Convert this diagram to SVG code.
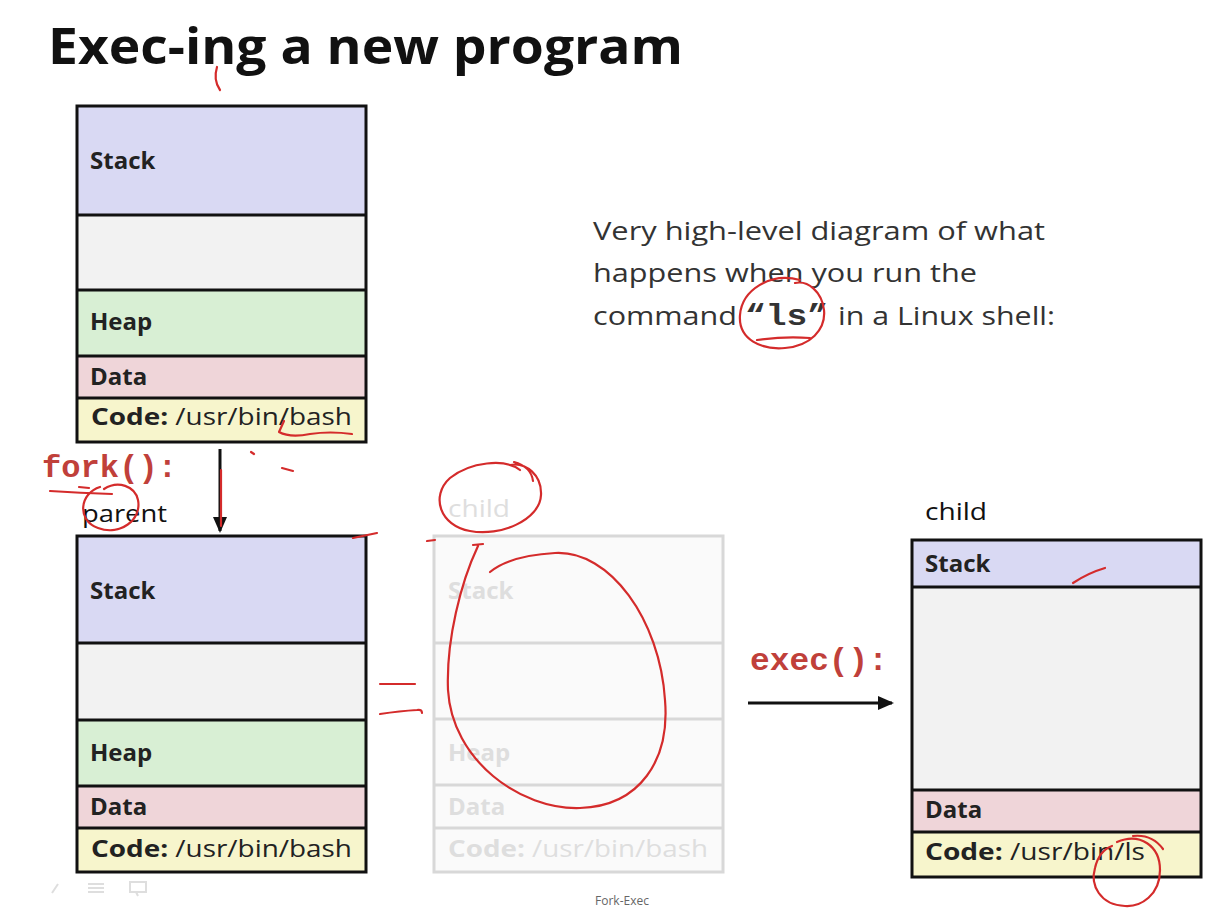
<svg xmlns="http://www.w3.org/2000/svg" width="1230" height="912" viewBox="0 0 1230 912">
  <style>
    .sans { font-family: "Open Sans", "Liberation Sans", sans-serif; }
    .mono { font-family: "Liberation Mono", "DejaVu Sans Mono", monospace; font-weight: bold; }
    .seg-label { font-family: "Open Sans", "Liberation Sans", sans-serif; font-weight: bold; font-size: 24px; fill: #222; }
    .code-path { font-weight: normal; }
    .frame { fill: none; stroke: #111; stroke-width: 3; }
    .divider { stroke: #111; stroke-width: 3; }
    .ghost-frame { fill: none; stroke: #d8d8d8; stroke-width: 3; }
    .ghost-divider { stroke: #d8d8d8; stroke-width: 3; }
    .ghost-label { fill: #dedede; }
    .stack { fill: #d9d9f3; }
    .gap { fill: #f2f2f2; }
    .heap { fill: #d8efd4; }
    .data { fill: #efd5d9; }
    .code { fill: #f7f5cc; }
    .ghost-fill { fill: #fafafa; }
    .ink { fill: none; stroke: #d42b2b; stroke-width: 2.2; stroke-linecap: round; stroke-linejoin: round; }
    .call { fill: #c0403a; font-size: 31px; }
    .arrow { stroke: #111; stroke-width: 3; fill: none; }
  </style>
  <defs>
    <marker id="head" markerUnits="userSpaceOnUse" markerWidth="16" markerHeight="14" refX="14" refY="7" orient="auto">
      <path d="M0,0 L16,7 L0,14 Z" fill="#111"/>
    </marker>
  </defs>

  <rect width="1230" height="912" fill="#ffffff"/>

  <!-- title -->
  <text class="sans" x="48" y="64" font-size="50" font-weight="bold" fill="#111" textLength="635" lengthAdjust="spacingAndGlyphs">Exec-ing a new program</text>

  <!-- explanation -->
  <g id="caption" class="sans" font-size="26" fill="#333">
    <text x="593" y="240" textLength="452" lengthAdjust="spacingAndGlyphs">Very high-level diagram of what</text>
    <text x="593" y="282" textLength="384" lengthAdjust="spacingAndGlyphs">happens when you run the</text>
    <text x="593" y="325" textLength="144" lengthAdjust="spacingAndGlyphs">command</text>
    <text class="mono" x="745" y="325" font-size="30" fill="#333" textLength="83" lengthAdjust="spacingAndGlyphs">“ls”</text>
    <text x="838" y="325" textLength="217" lengthAdjust="spacingAndGlyphs">in a Linux shell:</text>
  </g>

  <!-- bash before fork -->
  <g id="bash-before">
    <rect class="stack" x="77" y="106" width="289" height="109"/>
    <rect class="gap" x="77" y="215" width="289" height="75"/>
    <rect class="heap" x="77" y="290" width="289" height="66"/>
    <rect class="data" x="77" y="356" width="289" height="42"/>
    <rect class="code" x="77" y="398" width="289" height="44"/>
    <line class="divider" x1="77" y1="215" x2="366" y2="215"/>
    <line class="divider" x1="77" y1="290" x2="366" y2="290"/>
    <line class="divider" x1="77" y1="356" x2="366" y2="356"/>
    <line class="divider" x1="77" y1="398" x2="366" y2="398"/>
    <rect class="frame" x="77" y="106" width="289" height="336"/>
    <text class="seg-label" x="90" y="169">Stack</text>
    <text class="seg-label" x="90" y="330">Heap</text>
    <text class="seg-label" x="90" y="385">Data</text>
    <text class="seg-label" x="91" y="425" textLength="261" lengthAdjust="spacingAndGlyphs">Code:<tspan class="code-path"> /usr/bin/bash</tspan></text>
  </g>

  <!-- parent after fork -->
  <g id="parent">
    <text class="sans" x="82" y="522" font-size="24" fill="#111" textLength="85" lengthAdjust="spacingAndGlyphs">parent</text>
    <rect class="stack" x="77" y="536" width="289" height="107"/>
    <rect class="gap" x="77" y="643" width="289" height="77"/>
    <rect class="heap" x="77" y="720" width="289" height="66"/>
    <rect class="data" x="77" y="786" width="289" height="42"/>
    <rect class="code" x="77" y="828" width="289" height="44"/>
    <line class="divider" x1="77" y1="643" x2="366" y2="643"/>
    <line class="divider" x1="77" y1="720" x2="366" y2="720"/>
    <line class="divider" x1="77" y1="786" x2="366" y2="786"/>
    <line class="divider" x1="77" y1="828" x2="366" y2="828"/>
    <rect class="frame" x="77" y="536" width="289" height="336"/>
    <text class="seg-label" x="90" y="599">Stack</text>
    <text class="seg-label" x="90" y="761">Heap</text>
    <text class="seg-label" x="90" y="815">Data</text>
    <text class="seg-label" x="91" y="857" textLength="261" lengthAdjust="spacingAndGlyphs">Code:<tspan class="code-path"> /usr/bin/bash</tspan></text>
  </g>

  <!-- forked child, faded -->
  <g id="child-forked">
    <text class="sans ghost-label" x="448" y="517" font-size="24" textLength="62" lengthAdjust="spacingAndGlyphs">child</text>
    <rect class="ghost-fill" x="434" y="536" width="289" height="336"/>
    <line class="ghost-divider" x1="434" y1="643" x2="723" y2="643"/>
    <line class="ghost-divider" x1="434" y1="719" x2="723" y2="719"/>
    <line class="ghost-divider" x1="434" y1="785" x2="723" y2="785"/>
    <line class="ghost-divider" x1="434" y1="828" x2="723" y2="828"/>
    <rect class="ghost-frame" x="434" y="536" width="289" height="336"/>
    <text class="seg-label ghost-label" x="448" y="599">Stack</text>
    <text class="seg-label ghost-label" x="448" y="761">Heap</text>
    <text class="seg-label ghost-label" x="448" y="815">Data</text>
    <text class="seg-label ghost-label" x="448" y="857" textLength="260" lengthAdjust="spacingAndGlyphs">Code:<tspan class="code-path"> /usr/bin/bash</tspan></text>
  </g>

  <!-- child after exec -->
  <g id="child-exec">
    <text class="sans" x="925" y="520" font-size="24" fill="#111" textLength="62" lengthAdjust="spacingAndGlyphs">child</text>
    <rect class="stack" x="912" y="540" width="289" height="47"/>
    <rect class="gap" x="912" y="587" width="289" height="203"/>
    <rect class="data" x="912" y="790" width="289" height="42"/>
    <rect class="code" x="912" y="832" width="289" height="45"/>
    <line class="divider" x1="912" y1="587" x2="1201" y2="587"/>
    <line class="divider" x1="912" y1="790" x2="1201" y2="790"/>
    <line class="divider" x1="912" y1="832" x2="1201" y2="832"/>
    <rect class="frame" x="912" y="540" width="289" height="337"/>
    <text class="seg-label" x="925" y="572">Stack</text>
    <text class="seg-label" x="925" y="818">Data</text>
    <text class="seg-label" x="925" y="860" textLength="220" lengthAdjust="spacingAndGlyphs">Code:<tspan class="code-path"> /usr/bin/ls</tspan></text>
  </g>

  <!-- system calls and arrows -->
  <g id="connectors">
    <text class="mono call" x="42" y="477" textLength="135" lengthAdjust="spacingAndGlyphs">fork():</text>
    <line class="arrow" x1="220" y1="449" x2="220" y2="531" stroke-width="2.5" marker-end="url(#head)"/>
    <text class="mono call" x="750" y="670" fill="#c83a34" textLength="138" lengthAdjust="spacingAndGlyphs">exec():</text>
    <line class="arrow" x1="748" y1="703" x2="892" y2="703" marker-end="url(#head)"/>
  </g>

  <!-- pen annotations -->
  <g id="annotations">
    <path class="ink" d="M217 67 Q213 80 220 90"/>
    <path class="ink" d="M284 421 L279 432 Q290 438 310 434 Q330 431 352 434"/>
    <path class="ink" d="M221 470 L221 526" stroke-width="1.5"/>
    <path class="ink" d="M251 452 L254 454"/>
    <path class="ink" d="M282 468 L293 471"/>
    <path class="ink" d="M50 491 Q80 493 112 494"/>
    <path class="ink" d="M79 487 L89 488 M100 487 C80 493 76 520 98 528 C120 536 142 520 138 500 C135 486 118 480 104 489"/>
    <path class="ink" d="M520 470 C505 458 470 462 450 478 C430 496 440 526 470 531 C500 537 540 520 541 495 C542 475 526 462 510 465 M514 462 C525 465 532 472 533 481"/>
    <path class="ink" d="M353 538 L377 533"/>
    <path class="ink" d="M427 541 L435 540"/>
    <path class="ink" d="M473 545 L483 544 M478 546 C461 582 446 640 448 690 C452 760 520 810 580 808 C640 806 670 760 665 700 C660 620 610 550 555 553 C522 555 502 562 490 572"/>
    <path class="ink" d="M380 684 L415 684"/>
    <path class="ink" d="M380 714 Q400 711 417 710 Q422 709 422 713"/>
    <path class="ink" d="M1073 583 Q1088 573 1105 568"/>
    <path class="ink" d="M1117 842 C1140 832 1160 846 1160 870 C1160 895 1141 907 1125 906 C1100 905 1090 885 1095 868 C1098 855 1104 849 1112 846 M1133 836 Q1152 834 1163 849"/>
    <path class="ink" d="M800 280 C770 272 742 290 740 315 C738 340 762 350 785 348 C810 346 826 330 824 310 C822 292 808 280 795 283 M757 340 Q785 336 810 338"/>
  </g>

  <!-- slide footer -->
  <text class="sans" x="622" y="905" font-size="12" fill="#666" text-anchor="middle">Fork-Exec</text>
  <g id="player-controls" fill="none" stroke="#dedede" stroke-width="2">
    <path d="M52 893 L58 884"/>
    <path d="M88 884 H104 M88 888 H104 M88 892 H104"/>
    <path d="M130 882 H146 V892 H130 Z M136 892 L138 896"/>
  </g>
</svg>
